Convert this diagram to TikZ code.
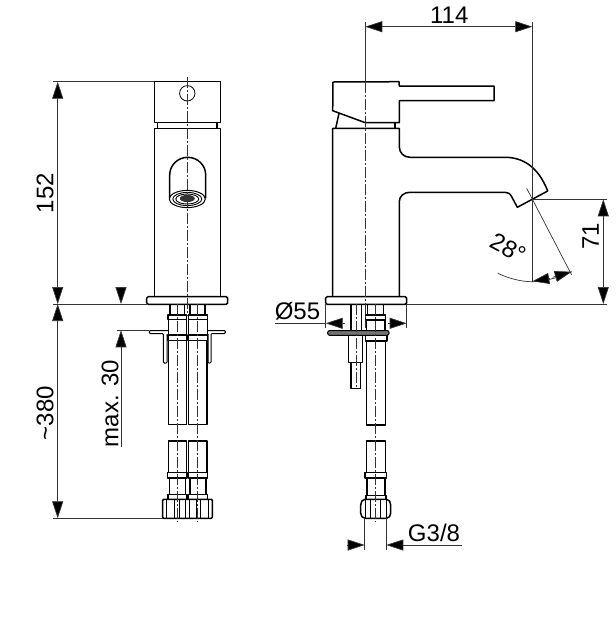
\documentclass[tikz,border=0pt]{standalone}
\usepackage{fontspec}
\setmainfont{Liberation Sans}
\usetikzlibrary{arrows.meta}
\tikzset{
	outline/.style={black, line width=1.5pt, line join=round},
	dimline/.style={black!80, line width=0.7pt},
	axisline/.style={black!80, line width=0.6pt, dash pattern=on 11pt off 2pt on 2pt off 2pt},
	dimtip/.style={{Triangle[length=17pt,width=11pt,fill=black]}-{Triangle[length=17pt,width=11pt,fill=black]}},
	tipend/.style={-{Triangle[length=17pt,width=11pt,fill=black]}},
	dimtext/.style={font=\fontsize{24}{24}\selectfont, inner sep=0pt}
}
\begin{document}
\begin{tikzpicture}[x=1pt,y=-1pt]
	\useasboundingbox (0,0) rectangle (616,641);

	% front view
	\draw [outline] (154.3,81.7) rectangle (220.3,122.7);
	\draw [outline] (157.7,122.7) rectangle (217,128.3);
	\draw [outline] (154.3,296.7) -- (154.3,128.3) -- (220.3,128.3) -- (220.3,296.7);
	\draw [outline, rounded corners=1.5pt] (146.7,296.7) rectangle (227.7,304.3);
	\draw [black, line width=0.8pt] (187.3,93.3) circle (7.7);
	\draw [outline] (169.7,198) -- (169.7,175) arc (180:360:18 and 17.7) -- (205.7,198);
	\draw [black, fill=white, line width=1pt] (187.3,199) ellipse (18 and 8.6);
	\draw [black, line width=0.9pt] (187.3,199) ellipse (14.5 and 6.6);
	\draw [black, line width=0.9pt] (187.3,199) ellipse (11.5 and 5);
	\fill [black!80] (187.3,198.5) ellipse (7.5 and 3.6);
	\draw [axisline] (187.3,77) -- (187.3,316);

	% front view, supply pipes
	\draw [outline] (170,304.3) -- (170,315) (184.3,304.3) -- (184.3,315);
	\draw [outline] (190,304.3) -- (190,315) (205,304.3) -- (205,315);
	\draw [outline] (168,315) rectangle (186.7,319.5);
	\draw [outline] (188.7,315) rectangle (207.3,319.5);
	\draw [outline] (168.7,319.5) rectangle (186.7,335);
	\draw [outline] (188.7,319.5) rectangle (207.3,335);
	\draw [outline] (168,335) rectangle (187,340.5);
	\draw [outline] (188.5,335) rectangle (207.5,340.5);
	\draw [outline] (168.7,340.5) -- (168.7,424.3) -- (186.7,424.3) -- (186.7,340.5);
	\draw [outline] (188.7,340.5) -- (188.7,424.3) -- (207,424.3) -- (207,340.5);
	\draw [outline] (168.7,472.7) -- (168.7,441) -- (186.7,441) -- (186.7,472.7);
	\draw [outline] (188.7,472.7) -- (188.7,441) -- (207,441) -- (207,472.7);
	\draw [outline] (167.7,472.7) rectangle (187,478);
	\draw [outline] (188.5,472.7) rectangle (207.7,478);
	\draw [outline] (169.7,478) rectangle (185.5,494.7);
	\draw [outline] (190,478) rectangle (206,494.7);
	\draw [outline] (168,494.7) rectangle (187,499.3);
	\draw [outline] (188.7,494.7) rectangle (207.3,499.3);
	\draw [outline, rounded corners=1pt] (162.7,499.3) rectangle (212.3,518.3);
	\draw [black, line width=1pt] (166.7,499.3) -- (166.7,518.3) (174,499.3) -- (174,518.3) (179.3,499.3) -- (179.3,518.3) (185.7,499.3) -- (185.7,518.3);
	\draw [black, line width=1pt] (189.3,499.3) -- (189.3,518.3) (196,499.3) -- (196,518.3) (200.7,499.3) -- (200.7,518.3) (208.3,499.3) -- (208.3,518.3);
	\draw [axisline] (177,304) -- (177,522);
	\draw [axisline] (197.7,304) -- (197.7,522);

	% front view, clamp plate
	\draw [black, line width=1pt, rounded corners=1pt] (168,330.5) -- (149.3,330.5) -- (149.3,333.5) -- (163.3,333.5) -- (163.3,363) -- (167,363) -- (167,334);
	\draw [black, line width=1pt, rounded corners=1pt] (207.3,330.5) -- (225.3,330.5) -- (225.3,333.5) -- (211,333.5) -- (211,363) -- (208,363) -- (208,334);

	% side view
	\draw [outline] (333,82) -- (399,81.7) -- (399.3,86) -- (494,86) -- (494,100.7) -- (399.3,100.7) -- (399.3,122.7) -- (365.3,122.7) -- (332.7,110.7) -- cycle;
	\draw [outline] (339,113.3) -- (335.7,128.3);
	\draw [outline] (395,122.7) -- (395,128.3);
	\draw [outline] (332.7,296) -- (332.7,128.3) -- (399.3,128.3) -- (399.3,146.7)
		.. controls (399.3,153) and (404,157.3) .. (410,157.3) -- (505,157.3)
		.. controls (522,157.3) and (538,166) .. (547.7,191) -- (517.3,207.3)
		-- (511.7,196.7) .. controls (510,193.5) and (508,192.3) .. (505,192.3) -- (410,192.3)
		.. controls (404,192.3) and (399.3,196) .. (399.3,201.7) -- (399.3,296);
	\draw [outline, rounded corners=1.5pt] (325.7,296.7) rectangle (406.7,304.3);

	% side view, supply pipes
	\draw [outline] (351,304.3) -- (351,330.5) (361.3,304.3) -- (361.3,330.5);
	\draw [outline] (367.7,304.3) -- (367.7,315) (383.3,304.3) -- (383.3,315);
	\draw [outline] (365.7,315) rectangle (385.7,320);
	\draw [outline] (366.7,320) rectangle (385,330.5);
	\draw [black, fill=black!55, line width=1pt, rounded corners=2pt] (327.7,330.5) rectangle (389,335.3);
	\draw [outline] (365.7,335.3) rectangle (387,341);
	\draw [outline] (366.7,341) -- (366.7,425) -- (385.7,425) -- (385.7,341);
	\draw [outline] (348.3,336) -- (348.3,362.7) -- (362.7,362.7) -- (362.7,336);
	\draw [outline] (351,362.7) -- (351,388.3) -- (360.7,388.3) -- (360.7,362.7);
	\draw [outline] (366.7,472.7) -- (366.7,441) -- (385.7,441) -- (385.7,472.7);
	\draw [outline] (365,472.7) rectangle (386.7,478);
	\draw [outline] (367,478) rectangle (385,495.7);
	\draw [outline] (366,495.7) rectangle (386,499.3);
	\draw [outline, rounded corners=2pt] (360.7,503) -- (363,499.3) -- (388.5,499.3) -- (390.7,503) -- (390.7,515) -- (388.5,518.3) -- (363,518.3) -- (360.7,515) -- cycle;
	\draw [black, line width=1pt] (365,499.3) -- (365,518.3) (370.7,499.3) -- (370.7,518.3) (380,499.3) -- (380,518.3) (386.7,499.3) -- (386.7,518.3);
	\draw [axisline] (375.3,304) -- (375.3,522);
	\draw [axisline] (356,304) -- (356,388);
	\draw [dimline] (365.3,22) -- (365.3,82);
	\draw [axisline] (365.3,82) -- (365.3,328);

	% dimension 152 and ~380
	\draw [dimline] (53,81.7) -- (154.3,81.7);
	\draw [dimline] (53,304) -- (146.7,304);
	\draw [dimline] (53,518.3) -- (162.7,518.3);
	\draw [dimline, dimtip] (57.7,81.7) -- (57.7,304);
	\draw [dimline, dimtip] (57.7,304) -- (57.7,518.3);
	\node [dimtext, rotate=90] (heighttext) at (45,193) {152};
	\node [dimtext, rotate=90] (pipetext) at (45,413) {\textasciitilde 380};

	% dimension max. 30
	\draw [dimline] (116.7,330.3) -- (149.3,330.3);
	\draw [dimline, tipend] (121,287) -- (121,304);
	\draw [dimline, tipend] (121,446.7) -- (121,330.3);
	\node [dimtext, rotate=90] (maxtext) at (110,403.5) {max. 30};

	% dimension 55
	\draw [dimline] (325.7,304) -- (325.7,328);
	\draw [dimline] (406.7,304) -- (406.7,328);
	\draw [dimline, tipend] (345,323.3) -- (325.7,323.3);
	\draw [dimline] (275,323.3) -- (325.7,323.3);
	\draw [dimline, tipend] (388,323.3) -- (406.7,323.3);
	\node [dimtext] (basetext) at (297.5,311.7) {Ø55};

	% dimension G3/8
	\draw [dimline] (364.7,518.3) -- (364.7,550);
	\draw [dimline] (386.3,518.3) -- (386.3,550);
	\draw [dimline, tipend] (346.7,545) -- (364.7,545);
	\draw [dimline, tipend] (461.7,545) -- (386.3,545);
	\node [dimtext] (threadtext) at (434,533) {G3/8};

	% dimension 114 and 71
	\draw [dimline, dimtip] (365.3,26.7) -- (532.3,26.7);
	\draw [dimline] (532.3,22) -- (532.3,282);
	\node [dimtext] (reachtext) at (449.3,15) {114};
	\draw [dimline] (532.3,199.3) -- (607,199.3);
	\draw [dimline] (406.7,304) -- (607,304);
	\draw [dimline, dimtip] (603.3,199.3) -- (603.3,304);
	\node [dimtext, rotate=90] (spouttext) at (590.7,236) {71};

	% angle
	\draw [dimline] (526.7,188.3) -- (571.7,275);
	\draw [dimline] (497.7,273.3) .. controls (510,279) and (522,281.7) .. (532.3,281.7) .. controls (545,281.7) and (560,277) .. (571.7,271.7);
	\draw [dimline, tipend] (550,278.3) -- (532.3,281.3);
	\draw [dimline, tipend] (552.5,277.3) -- (571.7,271.7);
	\node [dimtext, rotate=-28] (angletext) at (508,248) {28°};
\end{tikzpicture}
\end{document}
